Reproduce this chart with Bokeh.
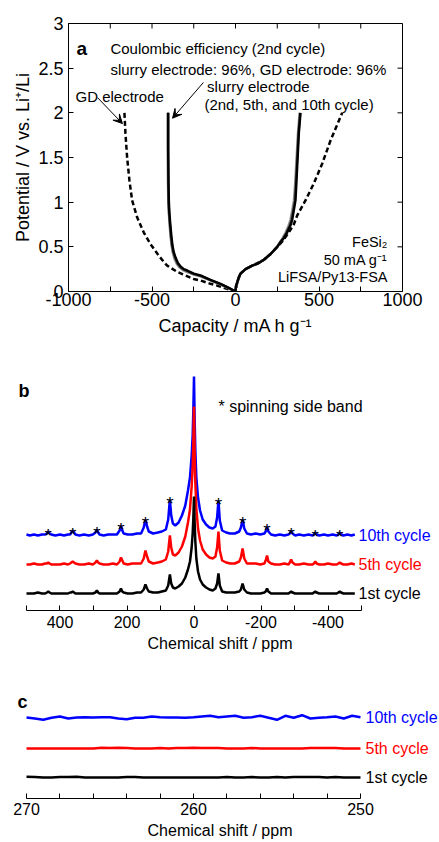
from bokeh.plotting import figure
from bokeh.models import Range1d, FixedTicker, CustomJSTickFormatter, Arrow, VeeHead
from bokeh.core.properties import value
from bokeh.embed import file_html
from bokeh.resources import INLINE

FONT = "Liberation Sans"

# ---------------- panel a : charge / discharge curves ----------------
cap_ticks = [-1000, -500, 0, 500, 1000]
cap_minor = [-750, -250, 250, 750]
v_ticks = [0, 0.5, 1, 1.5, 2, 2.5, 3]

gd_cap = [-665, -659, -649, -635, -619, -589, -549, -509, -459, -429, -409, -349, -300,
          -250, -210, -150, -110, -70, 0,
          10, 30, 60, 100, 170, 210, 250, 280, 319, 349, 369, 419, 469, 519, 569, 639]
gd_v = [2.0, 1.77, 1.5, 1.24, 1.02, 0.83, 0.66, 0.53, 0.40, 0.33, 0.29, 0.22, 0.18,
        0.14, 0.123, 0.086, 0.067, 0.04, 0.0,
        0.1, 0.2, 0.25, 0.29, 0.355, 0.42, 0.5, 0.56, 0.66, 0.75, 0.85, 1.02, 1.21, 1.43, 1.69, 2.0]

slurry2_cap = [-405, -405, -404, -402, -399, -395, -389, -383, -376, -366, -352, -335, -315,
               -292, -250, -210, -150, -90, -40, 0,
               3, 10, 20, 30, 60, 100, 130, 170, 210, 250, 265, 283, 300, 318, 329, 340,
               350, 357, 363, 374, 384]
slurry2_v = [2.0, 1.6, 1.2, 1.0, 0.88, 0.76, 0.62, 0.52, 0.44, 0.37, 0.31, 0.27, 0.24,
             0.22, 0.19, 0.17, 0.125, 0.08, 0.035, 0.0,
             0.06, 0.1, 0.16, 0.2, 0.25, 0.29, 0.31, 0.355, 0.42, 0.5, 0.55, 0.6, 0.66, 0.74, 0.8, 0.91,
             1.02, 1.2, 1.39, 1.77, 2.0]

slurry5_cap = [-404, -404, -403, -401, -398, -393, -387, -381, -373, -363, -349, -332, -312,
               -290, -250, -210, -150, -90, -40, 0,
               3, 10, 20, 30, 60, 100, 130, 170, 210, 250, 267, 287, 305, 324, 334, 345,
               355, 361, 366, 377, 387]
slurry5_v = [2.0, 1.6, 1.2, 1.0, 0.88, 0.76, 0.62, 0.52, 0.44, 0.375, 0.315, 0.275, 0.245,
             0.228, 0.195, 0.175, 0.128, 0.083, 0.037, 0.0,
             0.06, 0.1, 0.16, 0.2, 0.25, 0.29, 0.31, 0.355, 0.42, 0.5, 0.55, 0.6, 0.66, 0.74, 0.8, 0.91,
             1.02, 1.2, 1.39, 1.77, 2.0]

slurry10_cap = [-403, -403, -401, -399, -396, -391, -384, -378, -370, -359, -345, -329, -310,
                -289, -250, -210, -150, -90, -40, 0,
                3, 10, 20, 30, 60, 100, 130, 170, 210, 250, 269, 290, 309, 329, 339, 349,
                359, 364, 369, 379, 389]
slurry10_v = [2.0, 1.6, 1.2, 1.0, 0.88, 0.76, 0.62, 0.52, 0.44, 0.38, 0.32, 0.28, 0.25,
              0.235, 0.2, 0.18, 0.13, 0.086, 0.04, 0.0,
              0.06, 0.1, 0.16, 0.2, 0.25, 0.29, 0.31, 0.355, 0.42, 0.5, 0.55, 0.6, 0.66, 0.74, 0.8, 0.91,
              1.02, 1.2, 1.39, 1.77, 2.0]

# annotation anchors (data coordinates)
a_text_left = ["Coulombic efficiency (2nd cycle)",
               "slurry electrode: 96%, GD electrode: 96%",
               "GD electrode",
               "slurry electrode",
               "(2nd, 5th, and 10th cycle)"]
a_text_left_x = [-749, -749, -958, -170, -186]
a_text_left_y = [2.715, 2.49, 2.18, 2.295, 2.093]
a_text_right = ["FeSi\u2082", "50 mA g\u207b\u00b9", "LiFSA/Py13-FSA"]
a_text_right_x = [910, 910, 910]
a_text_right_y = [0.552, 0.355, 0.16]
gd_arrow = (-826, 2.17, -677, 1.88)
slurry_arrow = (-192, 2.34, -377, 1.94)

# ---------------- panel b : NMR spectra ----------------
ppm_b = [500, 490, 478, 466, 454, 444, 439, 435, 431, 426, 414, 400, 388, 376,
         370, 366, 362, 358, 354, 342, 328, 314, 302,
         294, 290, 286, 282, 270, 256, 242, 230,
         222, 218, 214, 210, 198, 184, 170, 158,
         150, 145, 140, 135, 122, 108, 96, 84,
         77, 72, 68, 63, 56, 46, 36, 26, 18, 12, 7, 4, 2,
         0,
         -2, -4, -7, -12, -18, -26, -36, -46, -56, -64, -69, -73, -77,
         -84, -96, -108, -122, -135, -140, -145, -150,
         -158, -170, -184, -198, -210, -214, -218, -222,
         -230, -242, -256, -270, -282, -286, -290, -294,
         -302, -314, -328, -342, -354, -358, -362, -366,
         -374, -388, -400, -414, -426, -431, -435, -439, -446, -458, -470, -480]

nmr_10th = [1, 0, 1, 0, 1, 1, 2, 4, 2, 1, 0, 1, 0, 1,
            1, 3, 5, 3, 1, 0, 1, 0, 1,
            3, 6, 3, 1, 0, 1, 1, 1,
            5, 10, 5, 2, 1, 1, 2, 2,
            8, 16, 9, 4, 2, 3, 4, 6,
            16, 36, 20, 12, 10, 13, 20, 30, 45, 58, 80, 100, 125,
            159,
            115, 85, 58, 38, 25, 16, 11, 8, 7, 9, 18, 35, 15,
            5, 3, 2, 2, 4, 8, 16, 7,
            2, 1, 2, 1, 2, 4, 9, 4,
            1, 0, 1, 0, 1, 2, 5, 2,
            0, 1, 0, 1, 0, 1, 3, 1,
            0, 1, 0, 1, 0, 1, 3, 1, 0, 1, 0, 1]

nmr_5th = [0, 0, 1, 0, 0, 1, 1, 2, 1, 0, 0, 0, 1, 0,
           1, 2, 3, 2, 1, 0, 0, 1, 0,
           2, 4, 2, 1, 0, 0, 1, 0,
           3, 7, 4, 1, 0, 1, 1, 1,
           6, 14, 8, 3, 1, 2, 3, 5,
           13, 29, 17, 10, 9, 12, 18, 28, 42, 55, 78, 98, 122,
           158,
           112, 82, 56, 36, 24, 15, 10, 7, 6, 8, 17, 33, 14,
           4, 2, 1, 1, 3, 7, 16, 6,
           1, 1, 1, 0, 1, 4, 9, 3,
           1, 0, 0, 1, 0, 2, 5, 2,
           0, 0, 1, 0, 0, 1, 3, 1,
           0, 0, 1, 0, 0, 1, 2, 1, 0, 0, 1, 0]

nmr_1st = [0, 0, 0, 1, 0, 0, 1, 2, 1, 0, 0, 0, 0, 0,
           1, 1, 2, 1, 0, 0, 0, 0, 0,
           1, 3, 1, 0, 0, 0, 0, 0,
           2, 5, 2, 1, 0, 0, 1, 1,
           4, 9, 5, 2, 1, 1, 2, 3,
           8, 19, 10, 6, 5, 7, 10, 16, 24, 32, 46, 60, 75,
           97,
           70, 52, 35, 22, 14, 9, 6, 4, 3, 5, 10, 20, 8,
           2, 1, 1, 1, 2, 4, 10, 4,
           1, 0, 0, 0, 1, 2, 5, 2,
           0, 0, 0, 0, 0, 1, 2, 1,
           0, 0, 0, 0, 0, 1, 2, 1,
           0, 0, 0, 0, 0, 1, 2, 1, 0, 0, 0, 0]

sideband_ppm = [435, 362, 290, 218, 145, 72, -73, -145, -218, -290, -362, -435]
ppm_b_ticks = [400, 200, 0, -200, -400]
ppm_b_minor = [500, 300, 100, -100, -300, -500]

# ---------------- panel c : zoomed NMR ----------------
ppm_c = [270, 269.5, 269, 268.5, 268, 267.5, 267, 266.5, 266, 265.5, 265, 264.5, 264,
         263.5, 263, 262.5, 262, 261.5, 261, 260.5, 260, 259.5, 259, 258.5, 258, 257.5,
         257, 256.5, 256, 255.5, 255, 254.5, 254, 253.5, 253, 252.5, 252, 251.5, 251,
         250.5, 250]
c_10th = [0, -1, -2.3, -0.3, 1, -1, 0, 0.3, 0, 0.3, 0.3, -1, -1.7, -0.3, -0.3, 1, 0.3, 0, 0,
          -0.3, 0.3, 1, 1.7, 0.3, 1, 1.7, -0.3, 0.3, 1.7, -0.3, -2.3, 1.7, -0.3, 2.3, -1,
          -0.3, 0.3, 1, -1, 1.7, 0.3]
c_5th = [0, 0, 0, 0, 0, 0, 0, 0, 0, 0.7, 0.5, 0.7, 0.6, 0, 0, 0, 0.6, 0, 0.6, 0.5, 0.7,
         0.6, 0.5, 0.6, 0, 0, 0, 0.6, 0, 0, 0, 0, 0, 0, 0.6, 0.5, 0.6, 0.5, 0, 0, 0]
c_1st = [0.7, 0.5, 0, 0, 0.5, 0.4, 0.7, 0, 0, 0, 0, 0, 0.5, 0.4, 0, 0, 0, 0, 0, 0, 0, 0,
         0, 0, 0.4, 0, 0, 0.4, 0, 0, 0.4, 0, 0.5, 0.4, 0.5, 0.4, 0, 0.4, 0, 0, 0]
ppm_c_ticks = [270, 260, 250]
ppm_c_minor = [268, 266, 264, 262, 258, 256, 254, 252]

cycles = ["1st cycle", "5th cycle", "10th cycle"]
cycle_colors = ["black", "#ff0000", "#0000ff"]

# stacking offsets (vertical position of each trace, layout only)
b_offsets = [17, 46, 75]
c_offsets = [21, 50, 81]

fmt = "return tick.toString();"
TICK = 5  # tick length, px


def style_axis(ax, size, label=None):
    ax.axis_line_color = "black"
    ax.axis_line_width = 1
    ax.major_tick_line_color = "black"
    ax.minor_tick_line_color = "black"
    ax.major_tick_in = TICK
    ax.major_tick_out = 0
    ax.minor_tick_in = TICK
    ax.minor_tick_out = 0
    ax.major_label_text_font = FONT
    ax.major_label_text_font_size = size
    ax.major_label_text_color = "black"
    ax.axis_label_text_font = FONT
    ax.axis_label_text_font_size = size
    ax.axis_label_text_font_style = "normal"
    ax.axis_label_text_color = "black"
    ax.formatter = CustomJSTickFormatter(code=fmt)
    if label is not None:
        ax.axis_label = label


# ======== figure a ========
A_LEFT, A_RIGHT, A_TOP, A_BOTTOM = 68, 37, 23, 52
A_W, A_H = 439, 343
fa = figure(width=A_W, height=A_H, x_range=Range1d(-1000, 1000), y_range=Range1d(0, 3),
            output_backend="svg", toolbar_location=None,
            min_border_left=A_LEFT, min_border_right=A_RIGHT,
            min_border_top=A_TOP, min_border_bottom=A_BOTTOM)
fa.xgrid.visible = False
fa.ygrid.visible = False
fa.outline_line_color = "black"
fa.outline_line_width = 1

xa = fa.xaxis[0]
style_axis(xa, "18px", "Capacity / mA h g\u207b\u00b9")
xa.ticker = FixedTicker(ticks=cap_ticks, minor_ticks=cap_minor)
xa.major_label_standoff = 1
xa.axis_label_standoff = 7

ya = fa.yaxis[0]
style_axis(ya, "18px", "Potential / V vs. Li\u207a/Li")
ya.ticker = FixedTicker(ticks=v_ticks, minor_ticks=[])
ya.major_label_standoff = 5
ya.axis_label_standoff = 2

# mirrored inward ticks on the top and right frame edges (no labels)
frame_w = A_W - A_LEFT - A_RIGHT
frame_h = A_H - A_TOP - A_BOTTOM
dy = TICK * (3 - 0) / frame_h
dx = TICK * (1000 - (-1000)) / frame_w
top_t = cap_ticks + cap_minor
fa.segment(x0=top_t, y0=[3] * len(top_t), x1=top_t, y1=[3 - dy] * len(top_t),
           line_color="black", line_width=1)
fa.segment(x0=[1000] * len(v_ticks), y0=v_ticks, x1=[1000 - dx] * len(v_ticks), y1=v_ticks,
           line_color="black", line_width=1)

fa.line(gd_cap, gd_v, line_color="black", line_width=2.5, line_dash="5 3")
fa.line(slurry2_cap, slurry2_v, line_color="#9a9a9a", line_width=2.5)
fa.line(slurry5_cap, slurry5_v, line_color="#606060", line_width=2.5)
fa.line(slurry10_cap, slurry10_v, line_color="black", line_width=2.5)

fa.text(x=a_text_left_x, y=a_text_left_y, text=a_text_left,
        text_font=value(FONT), text_font_size=value("15px"), text_color="black",
        text_align="left", text_baseline="alphabetic")
fa.text(x=a_text_right_x, y=a_text_right_y, text=a_text_right,
        text_font=value(FONT), text_font_size=value("14.5px"), text_color="black",
        text_align="right", text_baseline="alphabetic")
fa.text(x=[-952], y=[2.72], text=["a"], text_font=value(FONT), text_font_size=value("19px"),
        text_font_style="bold", text_color="black", text_align="left", text_baseline="alphabetic")

for (x0, y0, x1, y1) in (gd_arrow, slurry_arrow):
    fa.add_layout(Arrow(end=VeeHead(size=9, line_color="black", fill_color="black", line_width=1),
                        x_start=x0, y_start=y0, x_end=x1, y_end=y1,
                        line_color="black", line_width=1))

# ======== figure b ========
fb = figure(width=439, height=312, x_range=Range1d(577.6, -732.8), y_range=Range1d(0, 250),
            output_backend="svg", toolbar_location=None, y_axis_location=None,
            min_border_left=0, min_border_right=0, min_border_top=17, min_border_bottom=45)
fb.xgrid.visible = False
fb.ygrid.visible = False
fb.outline_line_color = None
xb = fb.xaxis[0]
style_axis(xb, "16px", "Chemical shift / ppm")
xb.ticker = FixedTicker(ticks=ppm_b_ticks, minor_ticks=ppm_b_minor)
xb.bounds = (-500, 500)
xb.major_label_standoff = 5
xb.axis_label_standoff = 4

b_series = [nmr_1st, nmr_5th, nmr_10th]
for i in (2, 1, 0):
    ys = [v + b_offsets[i] for v in b_series[i]]
    fb.line(ppm_b, ys, line_color=cycle_colors[i], line_width=2.5)

star_y = [b_offsets[2] + nmr_10th[ppm_b.index(s)] - 4 for s in sideband_ppm]
fb.text(x=sideband_ppm, y=star_y, text=["*"] * len(sideband_ppm), text_font=value(FONT),
        text_font_size=value("19px"), text_color="black", text_align="center",
        text_baseline="alphabetic")

fb.text(x=[-491] * 3, y=b_offsets, text=cycles, text_color=cycle_colors,
        text_font=value(FONT), text_font_size=value("16px"), text_align="left",
        text_baseline="middle")
fb.text(x=[-73], y=[204], text=["* spinning side band"], text_font=value(FONT),
        text_font_size=value("16px"), text_color="black", text_align="left", text_baseline="middle")
fb.text(x=[523.9], y=[220], text=["b"], text_font=value(FONT), text_font_size=value("18px"),
        text_font_style="bold", text_color="black", text_align="left", text_baseline="alphabetic")

# ======== figure c ========
fc = figure(width=439, height=187, x_range=Range1d(271.557, 245.269), y_range=Range1d(0, 113),
            output_backend="svg", toolbar_location=None, y_axis_location=None,
            min_border_left=0, min_border_right=0, min_border_top=30, min_border_bottom=44)
fc.xgrid.visible = False
fc.ygrid.visible = False
fc.outline_line_color = None
xc = fc.xaxis[0]
style_axis(xc, "16px", "Chemical shift / ppm")
xc.ticker = FixedTicker(ticks=ppm_c_ticks, minor_ticks=ppm_c_minor)
xc.bounds = (250, 270)
xc.major_label_standoff = 4
xc.axis_label_standoff = 4

c_series = [c_1st, c_5th, c_10th]
for i in (2, 1, 0):
    ys = [v + c_offsets[i] for v in c_series[i]]
    fc.line(ppm_c, ys, line_color=cycle_colors[i], line_width=2.5)

fc.text(x=[249.7] * 3, y=c_offsets, text=cycles, text_color=cycle_colors,
        text_font=value(FONT), text_font_size=value("16px"), text_align="left",
        text_baseline="middle")
fc.text(x=[270.54], y=[97], text=["c"], text_font=value(FONT), text_font_size=value("18px"),
        text_font_style="bold", text_color="black", text_align="left", text_baseline="alphabetic")

open("out.html", "w").write(file_html([fa, fb, fc], INLINE))
